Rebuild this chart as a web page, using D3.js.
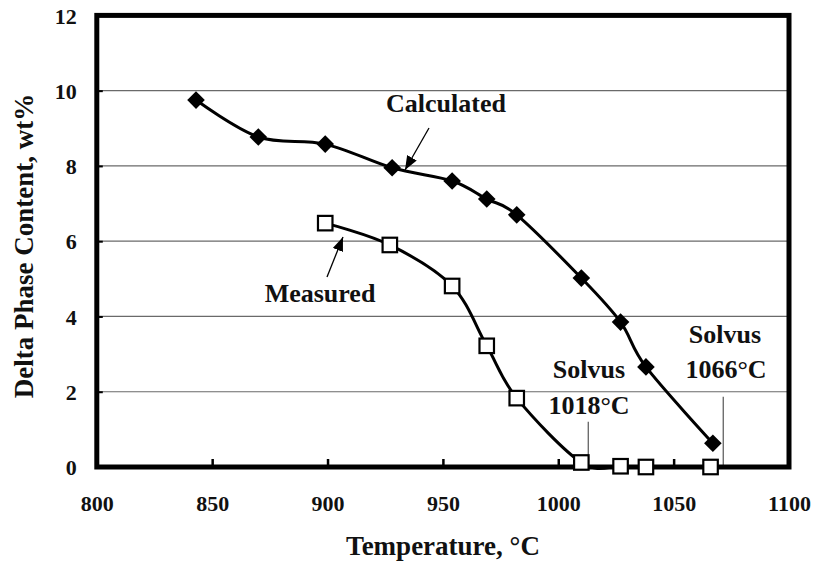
<!DOCTYPE html>
<html>
<head>
<meta charset="utf-8">
<script src="https://cdn.jsdelivr.net/npm/d3@7/dist/d3.min.js"></script>
<style>
  html, body { margin: 0; padding: 0; background: #fff; }
  svg { display: block; }
  text { font-family: "Liberation Serif", "Times New Roman", Times, serif; font-weight: bold; fill: #111; }
</style>
</head>
<body>
<svg id="chart" width="815" height="564"></svg>
<script>
// Delta phase content vs. temperature
const calcTemp  = [843, 870, 899, 928, 954, 969, 982, 1010, 1027, 1038, 1067];
const calcValue = [9.75, 8.77, 8.58, 7.95, 7.6, 7.12, 6.7, 5.02, 3.85, 2.66, 0.63];

const measTemp  = [899, 927, 954, 969, 982, 1010, 1027, 1038, 1066];
const measValue = [6.48, 5.9, 4.81, 3.22, 1.83, 0.12, 0.02, 0.0, 0.0];

const xTicks = [800, 850, 900, 950, 1000, 1050, 1100];
const yTicks = [0, 2, 4, 6, 8, 10, 12];

// Solvus leader lines: [temperature, top value]
const solvusLines = [[1013, 1.2], [1071.5, 1.87]];

const svg = d3.select("#chart");
const x = d3.scaleLinear().domain([800, 1100]).range([96.8, 789]);
const y = d3.scaleLinear().domain([0, 12]).range([467, 15.4]);

// horizontal gridlines
svg.append("g").selectAll("line")
  .data(yTicks.filter(v => v > 0 && v < 12))
  .join("line")
  .attr("x1", x(800)).attr("x2", x(1100))
  .attr("y1", d => y(d)).attr("y2", d => y(d))
  .attr("stroke", "#6a6a6a").attr("stroke-width", 1.2);

// axes with inward ticks
const yAxis = d3.axisLeft(y).tickValues(yTicks).tickSize(-6).tickPadding(20).tickFormat(d3.format("d"));
const gy = svg.append("g").attr("transform", `translate(${x(800)},0)`).call(yAxis);
gy.select(".domain").remove();
gy.selectAll(".tick line").attr("stroke", "#000").attr("stroke-width", 2);
gy.selectAll(".tick text").attr("font-size", 22).attr("dy", "0.35em")
  .style("font-family", '"Liberation Serif", "Times New Roman", serif').style("font-weight", "bold").attr("fill", "#111");

const xAxis = d3.axisBottom(x).tickValues(xTicks).tickSize(-8).tickPadding(28).tickFormat(d3.format("d"));
const gx = svg.append("g").attr("transform", `translate(0,${y(0)})`).call(xAxis);
gx.select(".domain").remove();
gx.selectAll(".tick line").attr("stroke", "#000").attr("stroke-width", 2.5);
gx.selectAll(".tick text").attr("font-size", 22)
  .style("font-family", '"Liberation Serif", "Times New Roman", serif').style("font-weight", "bold").attr("fill", "#111");

// solvus leader lines
svg.append("g").selectAll("line")
  .data(solvusLines)
  .join("line")
  .attr("x1", d => x(d[0])).attr("x2", d => x(d[0]))
  .attr("y1", d => y(d[1])).attr("y2", y(0))
  .attr("stroke", "#555").attr("stroke-width", 1.2);

// smoothed series lines
const line = d3.line().curve(d3.curveCatmullRom.alpha(0));
const calcPts = calcTemp.map((t, i) => [x(t), y(calcValue[i])]);
const measPts = measTemp.map((t, i) => [x(t), y(measValue[i])]);

svg.append("path").attr("d", line(calcPts))
  .attr("fill", "none").attr("stroke", "#000").attr("stroke-width", 3);
svg.append("path").attr("d", line(measPts))
  .attr("fill", "none").attr("stroke", "#000").attr("stroke-width", 3);

// plot frame
svg.append("rect")
  .attr("x", x(800)).attr("y", y(12))
  .attr("width", x(1100) - x(800)).attr("height", y(0) - y(12))
  .attr("fill", "none").attr("stroke", "#000").attr("stroke-width", 5);

// markers
const diamond = 8.8;
svg.append("g").selectAll("path")
  .data(calcPts)
  .join("path")
  .attr("d", d => `M${d[0]},${d[1] - diamond}L${d[0] + diamond},${d[1]}L${d[0]},${d[1] + diamond}L${d[0] - diamond},${d[1]}Z`)
  .attr("fill", "#000");

const sq = 14.5;
svg.append("g").selectAll("rect")
  .data(measPts)
  .join("rect")
  .attr("x", d => d[0] - sq / 2).attr("y", d => d[1] - sq / 2)
  .attr("width", sq).attr("height", sq)
  .attr("fill", "#fff").attr("stroke", "#000").attr("stroke-width", 2.2);

// arrows
const defs = svg.append("defs");
defs.append("marker")
  .attr("id", "head").attr("viewBox", "0 0 14 11")
  .attr("refX", 14).attr("refY", 5.5)
  .attr("markerWidth", 14).attr("markerHeight", 11)
  .attr("markerUnits", "userSpaceOnUse")
  .attr("orient", "auto")
  .append("path").attr("d", "M0,0L14,5.5L0,11Z").attr("fill", "#000");

const arrows = [[429, 128, 405, 170], [327, 277, 343, 237]];
svg.append("g").selectAll("line")
  .data(arrows)
  .join("line")
  .attr("x1", d => d[0]).attr("y1", d => d[1])
  .attr("x2", d => d[2]).attr("y2", d => d[3])
  .attr("stroke", "#000").attr("stroke-width", 1.3)
  .attr("marker-end", "url(#head)");

// annotations
const notes = [
  { text: "Calculated", x: 446, y: 112 },
  { text: "Measured",   x: 320, y: 302 },
  { text: "Solvus",     x: 589, y: 378 },
  { text: "1018°C",     x: 589, y: 414 },
  { text: "Solvus",     x: 725, y: 343 },
  { text: "1066°C",     x: 726, y: 378 }
];
svg.append("g").selectAll("text")
  .data(notes)
  .join("text")
  .attr("x", d => d.x).attr("y", d => d.y)
  .attr("text-anchor", "middle")
  .attr("font-size", 26)
  .text(d => d.text);

// axis titles
svg.append("text")
  .attr("x", 443).attr("y", 555)
  .attr("text-anchor", "middle").attr("font-size", 27)
  .text("Temperature, °C");

svg.append("text")
  .attr("transform", "translate(33,246) rotate(-90)")
  .attr("text-anchor", "middle").attr("font-size", 27)
  .text("Delta Phase Content, wt%");
</script>
</body>
</html>
